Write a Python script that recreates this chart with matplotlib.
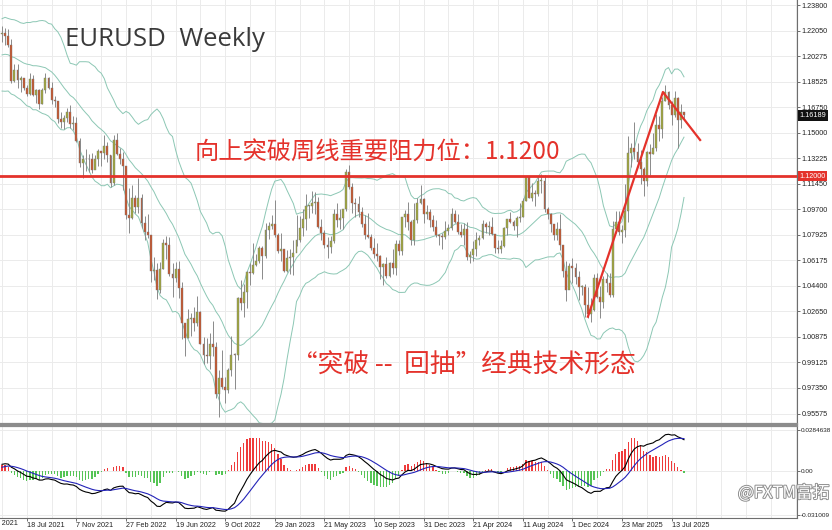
import numpy as np
import pandas as pd
import matplotlib
matplotlib.use("Agg")
import matplotlib.pyplot as plt
import matplotlib.transforms as mtransforms
from matplotlib import patheffects

# weekly closes before the first visible bar (4 Oct 2020 .. 16 May 2021), used for the indicators
prior_close = [1.1825, 1.1720, 1.1860, 1.1645, 1.1875, 1.1835, 1.1855, 1.1965, 1.2120, 1.2110,
               1.2255, 1.2185, 1.2215, 1.2220, 1.2080, 1.2170, 1.2135, 1.2045, 1.2120, 1.2120,
               1.2075, 1.1915, 1.1950, 1.1905, 1.1795, 1.1765, 1.1900, 1.1985, 1.2095, 1.2020,
               1.2165, 1.2140, 1.2180]

first_week = "2021-05-23"

# visible weekly bars, 23 May 2021 .. 10 Aug 2025
close = [1.2190, 1.2165, 1.2105, 1.1860, 1.1935, 1.1865, 1.1875, 1.1810, 1.1770, 1.1870,
         1.1760, 1.1795, 1.1700, 1.1795, 1.1880, 1.1812, 1.1725, 1.1720, 1.1595, 1.1570,
         1.1600, 1.1645, 1.1560, 1.1567, 1.1445, 1.1290, 1.1320, 1.1315, 1.1315, 1.1240,
         1.1320, 1.1370, 1.1360, 1.1410, 1.1345, 1.1150, 1.1450, 1.1350, 1.1320, 1.1270,
         1.0930, 1.0910, 1.1050, 1.0985, 1.1050, 1.0875, 1.0810, 1.0795, 1.0545, 1.0550,
         1.0410, 1.0560, 1.0735, 1.0720, 1.0520, 1.0495, 1.0555, 1.0425, 1.0185, 1.0080,
         1.0210, 1.0220, 1.0180, 1.0260, 1.0040, 0.9965, 0.9955, 1.0040, 1.0015, 0.9690,
         0.9800, 0.9740, 0.9720, 0.9860, 0.9965, 0.9960, 1.0355, 1.0325, 1.0400, 1.0535,
         1.0530, 1.0585, 1.0615, 1.0705, 1.0645, 1.0830, 1.0855, 1.0870, 1.0795, 1.0680,
         1.0695, 1.0545, 1.0635, 1.0640, 1.0670, 1.0760, 1.0840, 1.0900, 1.0990, 1.0990,
         1.1015, 1.1020, 1.0850, 1.0805, 1.0720, 1.0710, 1.0750, 1.0940, 1.0895, 1.0910,
         1.0970, 1.1230, 1.1125, 1.1015, 1.1005, 1.0950, 1.0870, 1.0795, 1.0775, 1.0700,
         1.0660, 1.0645, 1.0570, 1.0590, 1.0510, 1.0595, 1.0565, 1.0730, 1.0680, 1.0915,
         1.0940, 1.0885, 1.0760, 1.0895, 1.1010, 1.1040, 1.0940, 1.0950, 1.0895, 1.0850,
         1.0790, 1.0785, 1.0775, 1.0820, 1.0840, 1.0940, 1.0885, 1.0810, 1.0790, 1.0835,
         1.0640, 1.0655, 1.0695, 1.0760, 1.0770, 1.0870, 1.0845, 1.0850, 1.0800, 1.0705,
         1.0695, 1.0715, 1.0840, 1.0905, 1.0880, 1.0855, 1.0910, 1.0915, 1.1030, 1.1190,
         1.1050, 1.1085, 1.1075, 1.1165, 1.1165, 1.0975, 1.0935, 1.0865, 1.0795, 1.0835,
         1.0720, 1.0540, 1.0415, 1.0575, 1.0565, 1.0500, 1.0430, 1.0430, 1.0305, 1.0245,
         1.0270, 1.0495, 1.0360, 1.0330, 1.0490, 1.0460, 1.0375, 1.0835, 1.0880, 1.0815,
         1.0830, 1.0960, 1.1360, 1.1395, 1.1365, 1.1295, 1.1250, 1.1165, 1.1365, 1.1350,
         1.1395, 1.1550, 1.1525, 1.1720, 1.1780, 1.1690, 1.1625, 1.1740, 1.1585, 1.1640,
         1.16189]

high = [1.2240, 1.2225, 1.2218, 1.2150, 1.1975, 1.1975, 1.1895, 1.1880, 1.1830, 1.1910,
        1.1900, 1.1805, 1.1805, 1.1810, 1.1910, 1.1885, 1.1850, 1.1750, 1.1720, 1.1640,
        1.1625, 1.1670, 1.1690, 1.1615, 1.1610, 1.1465, 1.1345, 1.1385, 1.1355, 1.1360,
        1.1345, 1.1385, 1.1365, 1.1482, 1.1435, 1.1345, 1.1483, 1.1495, 1.1395, 1.1365,
        1.1235, 1.1120, 1.1135, 1.1070, 1.1185, 1.1075, 1.0925, 1.0935, 1.0795, 1.0640,
        1.0595, 1.0605, 1.0765, 1.0787, 1.0775, 1.0600, 1.0605, 1.0615, 1.0465, 1.0185,
        1.0280, 1.0255, 1.0295, 1.0370, 1.0265, 1.0090, 1.0080, 1.0115, 1.0200, 1.0050,
        0.9855, 0.9999, 0.9810, 0.9875, 1.0095, 0.9975, 1.0365, 1.0480, 1.0450, 1.0545,
        1.0595, 1.0735, 1.0660, 1.0715, 1.0715, 1.0875, 1.0885, 1.0930, 1.1033, 1.0805,
        1.0805, 1.0695, 1.0690, 1.0695, 1.0760, 1.0930, 1.0925, 1.0975, 1.1075, 1.1000,
        1.1095, 1.1090, 1.1055, 1.0905, 1.0830, 1.0780, 1.0785, 1.0970, 1.1010, 1.0975,
        1.0975, 1.1245, 1.1276, 1.1150, 1.1045, 1.1065, 1.0985, 1.0930, 1.0945, 1.0800,
        1.0770, 1.0735, 1.0655, 1.0595, 1.0640, 1.0605, 1.0695, 1.0755, 1.0755, 1.0915,
        1.0965, 1.1017, 1.0895, 1.1010, 1.1045, 1.1139, 1.1045, 1.1000, 1.0970, 1.0930,
        1.0895, 1.0800, 1.0805, 1.0890, 1.0865, 1.0980, 1.0965, 1.0940, 1.0865, 1.0875,
        1.0885, 1.0680, 1.0750, 1.0812, 1.0790, 1.0895, 1.0880, 1.0890, 1.0915, 1.0800,
        1.0760, 1.0760, 1.0845, 1.0905, 1.0950, 1.0895, 1.0925, 1.1010, 1.1050, 1.1200,
        1.1202, 1.1155, 1.1100, 1.1190, 1.1214, 1.1210, 1.0985, 1.0945, 1.0870, 1.0885,
        1.0935, 1.0725, 1.0610, 1.0600, 1.0630, 1.0595, 1.0545, 1.0445, 1.0455, 1.0435,
        1.0355, 1.0520, 1.0530, 1.0440, 1.0505, 1.0530, 1.0530, 1.0890, 1.0955, 1.0955,
        1.0860, 1.1147, 1.1474, 1.1425, 1.1573, 1.1425, 1.1380, 1.1265, 1.1375, 1.1420,
        1.1495, 1.1630, 1.1615, 1.1745, 1.1830, 1.1790, 1.1720, 1.1788, 1.1745, 1.1700,
        1.1645]

low = [1.2130, 1.2105, 1.2095, 1.1845, 1.1850, 1.1810, 1.1780, 1.1795, 1.1755, 1.1760,
       1.1755, 1.1705, 1.1665, 1.1695, 1.1775, 1.1800, 1.1700, 1.1680, 1.1565, 1.1530,
       1.1525, 1.1570, 1.1535, 1.1515, 1.1435, 1.1265, 1.1186, 1.1235, 1.1230, 1.1220,
       1.1270, 1.1270, 1.1270, 1.1315, 1.1300, 1.1121, 1.1140, 1.1345, 1.1280, 1.1106,
       1.0900, 1.0806, 1.0900, 1.0945, 1.0945, 1.0840, 1.0757, 1.0770, 1.0470, 1.0480,
       1.0350, 1.0390, 1.0560, 1.0625, 1.0505, 1.0360, 1.0470, 1.0355, 1.0070, 0.9952,
       1.0080, 1.0095, 1.0125, 1.0160, 1.0035, 0.9900, 0.9910, 0.9865, 0.9955, 0.9665,
       0.9536, 0.9730, 0.9630, 0.9700, 0.9815, 0.9730, 0.9930, 1.0270, 1.0225, 1.0290,
       1.0445, 1.0520, 1.0575, 1.0600, 1.0485, 1.0630, 1.0765, 1.0835, 1.0780, 1.0670,
       1.0615, 1.0535, 1.0535, 1.0525, 1.0515, 1.0715, 1.0745, 1.0785, 1.0830, 1.0910,
       1.0945, 1.0940, 1.0840, 1.0760, 1.0705, 1.0635, 1.0665, 1.0735, 1.0845, 1.0835,
       1.0835, 1.0955, 1.1110, 1.0945, 1.0915, 1.0915, 1.0845, 1.0765, 1.0770, 1.0685,
       1.0630, 1.0615, 1.0488, 1.0448, 1.0495, 1.0500, 1.0520, 1.0515, 1.0655, 1.0655,
       1.0850, 1.0830, 1.0725, 1.0720, 1.0875, 1.1005, 1.0875, 1.0900, 1.0845, 1.0820,
       1.0780, 1.0720, 1.0695, 1.0765, 1.0795, 1.0825, 1.0875, 1.0800, 1.0775, 1.0725,
       1.0620, 1.0601, 1.0610, 1.0650, 1.0725, 1.0765, 1.0805, 1.0790, 1.0795, 1.0670,
       1.0670, 1.0665, 1.0710, 1.0790, 1.0875, 1.0825, 1.0775, 1.0880, 1.0915, 1.1030,
       1.1045, 1.1025, 1.0995, 1.1065, 1.1085, 1.0950, 1.0905, 1.0810, 1.0760, 1.0760,
       1.0685, 1.0500, 1.0335, 1.0425, 1.0460, 1.0450, 1.0345, 1.0380, 1.0225, 1.0215,
       1.0190, 1.0265, 1.0355, 1.0220, 1.0285, 1.0400, 1.0360, 1.0360, 1.0805, 1.0795,
       1.0735, 1.0775, 1.0885, 1.1265, 1.1315, 1.1265, 1.1145, 1.1065, 1.1130, 1.1210,
       1.1355, 1.1370, 1.1445, 1.1460, 1.1720, 1.1665, 1.1555, 1.1605, 1.1391, 1.1530,
       1.1590]

price_ticks = [1.23800, 1.22050, 1.20275, 1.18525, 1.16750, 1.15000, 1.13225, 1.11450, 1.09700,
               1.07925, 1.06175, 1.04400, 1.02650, 1.00875, 0.99125, 0.97350, 0.95575]
macd_ticks = [0.0284638, 0.0, -0.031009]
macd_labels = ["0.0284638", "0.00", "-0.031009"]
resistance = 1.12
last_price = 1.16189

# hand drawn trend lines: bar index, price
trend_bar = [189.0, 213.2, 225.2]
trend_price = [1.0227, 1.1781, 1.1449]

title = "EURUSD  Weekly"
note_top = "向上突破周线重要阻力位：1.1200"
note_bottom = "“突破 --  回抽”经典技术形态"
watermark = "@FXTM富拓"

# ---- indicators
n = len(close)
all_close = pd.Series(prior_close + close)
mid = all_close.rolling(20).mean()
sd = all_close.rolling(20).std(ddof=0)
bb_up = (mid + 2 * sd).values[-n:]
bb_mid = mid.values[-n:]
bb_low = (mid - 2 * sd).values[-n:]

dif = all_close.ewm(span=12, adjust=False).mean() - all_close.ewm(span=26, adjust=False).mean()
dea = dif.ewm(span=9, adjust=False).mean()
hist = (2 * (dif - dea)).values[-n:]
dif = dif.values[-n:]
dea = dea.values[-n:]

x = np.arange(n)
c = np.array(close)
o = np.r_[prior_close[-1], c[:-1]]
h = np.array(high)
l = np.array(low)

W, H = 832, 530
fig = plt.figure(figsize=(W / 100, H / 100), dpi=100)
ax1 = fig.add_axes([0, 1 - 424 / H, 797 / W, 424 / H])
ax2 = fig.add_axes([0, 1 - 518 / H, 797 / W, 92 / H], sharex=ax1)

xlim = (-2 / 3.1, 795 / 3.1)
grid_c = "#ebebeb"
label_font = "Liberation Sans"
fs = 5.2

# ---- price panel
vgrid = np.arange(-8, 260, 8)
for ax in (ax1, ax2):
    for g in vgrid:
        ax.axvline(g, color=grid_c, lw=0.7, zorder=0)
for p in price_ticks:
    ax1.axhline(p, color=grid_c, lw=0.7, zorder=0)

ax1.plot(x, bb_up, color="#8cc7b4", lw=0.7, zorder=1)
ax1.plot(x, bb_mid, color="#8cc7b4", lw=0.7, zorder=1)
ax1.plot(x, bb_low, color="#8cc7b4", lw=0.7, zorder=1)

up = c >= o
ax1.vlines(x, l, h, color="#8a8a8a", lw=0.7, zorder=2)
body = np.maximum(np.abs(c - o), 0.0006)
ax1.bar(x, body, bottom=np.minimum(o, c), width=0.6,
        color=np.where(up, "#a2a83a", "#c9552b"), edgecolor="#7a7a7a", linewidth=0.3, zorder=3)

ax1.axhline(resistance, color="#e4322b", lw=2, zorder=4)
ax1.plot(trend_bar, trend_price, color="#e4322b", lw=1.6, zorder=5)

ax1.set_xlim(*xlim)
ax1.set_ylim(1.12 - 248 / 1446, 1.12 + 176 / 1446)
ax1.yaxis.tick_right()
ax1.set_yticks(price_ticks)
ax1.set_yticklabels(["%.5f" % p for p in price_ticks], fontsize=fs, family=label_font, color="#222222")
ax1.tick_params(axis="y", length=2, width=0.6, color="#555555", pad=1.5)
ax1.tick_params(axis="x", bottom=False, labelbottom=False)
for s in ("left", "top"):
    ax1.spines[s].set_visible(False)
ax1.spines["right"].set_color("#6e6e6e")
ax1.spines["bottom"].set_color("#8c8c8c")
ax1.spines["bottom"].set_linewidth(1.6)

tr = mtransforms.blended_transform_factory(ax1.transAxes, ax1.transData)
ax1.text(1.003, resistance, "%.5f" % resistance, transform=tr, va="center", ha="left",
         fontsize=fs, family=label_font, color="white", clip_on=False, zorder=10,
         bbox=dict(boxstyle="square,pad=0.25", fc="#e4322b", ec="none"))
ax1.text(1.003, last_price, "%.5f" % last_price, transform=tr, va="center", ha="left",
         fontsize=fs, family=label_font, color="white", clip_on=False, zorder=10,
         bbox=dict(boxstyle="square,pad=0.25", fc="#111111", ec="none"))

# ---- MACD panel
for p in macd_ticks:
    ax2.axhline(p, color=grid_c, lw=0.7, zorder=0)
ax2.bar(x, hist, width=0.45, color=np.where(hist >= 0, "#ef3b3b", "#55c455"), zorder=2)
ax2.plot(x, dif, color="black", lw=0.8, zorder=3)
ax2.plot(x, dea, color="#2323b8", lw=0.8, zorder=3)
ax2.set_ylim(-0.031009 - 3 / 1429, 0.0284638 + 4 / 1429)
ax2.yaxis.tick_right()
ax2.set_yticks(macd_ticks)
ax2.set_yticklabels(macd_labels, fontsize=4.6, family=label_font, color="#222222")
ax2.tick_params(axis="y", length=2, width=0.6, color="#555555", pad=1)
ax2.spines["left"].set_visible(False)
ax2.spines["top"].set_color("#8c8c8c")
ax2.spines["top"].set_linewidth(1.6)
ax2.spines["right"].set_color("#6e6e6e")
ax2.spines["bottom"].set_color("#6e6e6e")

tick_pos = np.arange(-8, n, 16)
tick_dates = pd.date_range(pd.Timestamp(first_week) - pd.Timedelta(weeks=8), periods=len(tick_pos), freq="112D")
tick_text = ["%d %s" % (d.day, d.strftime("%b %Y")) for d in tick_dates]
ax2.set_xticks(tick_pos[1:])
ax2.set_xticklabels(tick_text[1:], fontsize=fs, family=label_font, color="#222222", ha="left")
ax2.tick_params(axis="x", length=2, width=0.6, color="#555555", pad=1)
ax2.set_xlim(*xlim)
# first date label sits left of the visible range, only its tail shows
ax2.text(tick_pos[0], -0.025, tick_text[0], transform=mtransforms.blended_transform_factory(ax2.transData, ax2.transAxes),
         fontsize=fs, family=label_font, color="#222222", ha="left", va="top", clip_on=False)

# ---- annotations
def px(xp, yp):
    return xp / W, 1 - yp / H

fig.text(*px(65, 40), title, fontsize=18.5, family="Open Sans", color="#3a3a3a", va="center", ha="left")
fig.text(*px(195, 152), note_top, fontsize=17.5, family=["Noto Sans CJK SC", "DejaVu Sans"],
         color="#e4322b", va="center", ha="left")
fig.text(*px(292, 366), note_bottom, fontsize=18.5, family=["Noto Sans CJK SC", "DejaVu Sans"],
         color="#e4322b", va="center", ha="left")
fig.text(*px(738, 493), watermark, fontsize=12, family=["Noto Sans CJK SC", "DejaVu Sans"],
         color="white", va="center", ha="left",
         path_effects=[patheffects.withStroke(linewidth=1.4, foreground="#8f8f8f")])

fig.savefig("out.png", dpi=100)
